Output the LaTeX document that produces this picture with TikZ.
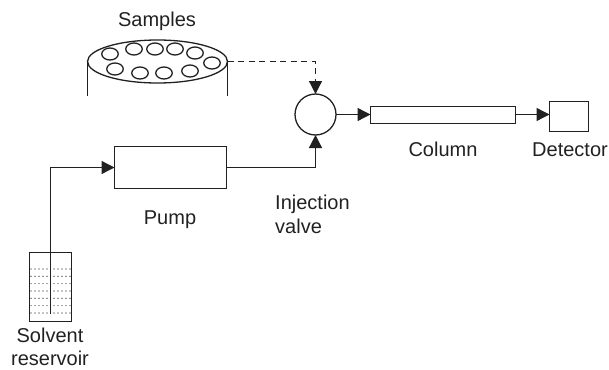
\documentclass[tikz,border=0pt]{standalone}
\usepackage{fontspec}
\setmainfont{Liberation Sans}
\usetikzlibrary{arrows.meta,calc,shapes.geometric}
\definecolor{ink}{gray}{0.13}
\tikzset{
  x=1pt,y=-1pt,
  line/.style={draw=ink,line width=1.3pt},
  tip/.style={-{Triangle[length=13pt,width=13pt,fill=ink]}},
  flow/.style={line,tip},
  part/.style={line,rectangle,inner sep=0pt,outer sep=0pt,anchor=north west},
  lab/.style={text=ink,font=\fontsize{20}{23.5}\selectfont,inner sep=0pt,align=center},
  hole/.style={line,ellipse,minimum width=16.5pt,minimum height=12pt,inner sep=0pt}
}
\begin{document}
\begin{tikzpicture}
\useasboundingbox (0,0) rectangle (609,369);
% samples tray
\node[line,ellipse,minimum width=140pt,minimum height=43pt,inner sep=0pt,outer sep=0pt] (tray) at (157.5,61.5) {};
\coordinate (trayBL) at (87.5,96);
\coordinate (trayBR) at (227.5,96);
\draw[line] (tray.west) -- (trayBL);
\draw[line] (tray.east) -- (trayBR);
\foreach \i/\x/\y in {1/110/54,2/134/49,3/155/49,4/175/49,5/195/53,6/212/63,7/115/69,8/140/73,9/164/73,10/190/71}
  \node[hole] (h\i) at (\x,\y) {};
% valve, pump, column, detector
\node[line,circle,minimum size=41pt,inner sep=0pt,outer sep=0pt] (valve) at (315.5,114.5) {};
\node[part,minimum width=112pt,minimum height=42pt] (pump) at (114.5,146.5) {};
\node[part,minimum width=145pt,minimum height=17pt] (column) at (370.5,106.5) {};
\node[part,minimum width=39pt,minimum height=30pt] (detector) at (549.5,101.5) {};
\node[part,minimum width=42pt,minimum height=69pt] (res) at (29.5,252.5) {};
% reservoir contents
\foreach \y in {269,276.3,283.6,291,298.3,305.6,313}
  \foreach \x in {31,35,39,43,47,54,58,62,66,70}
    \fill[black] (\x,\y) circle (0.6pt);
\coordinate (dip) at (50.5,314);
\coordinate (bend) at (50.5,167.5);
\draw[flow] (dip) -- (bend) -- (pump.west);
\draw[flow] (pump.east) -| (valve.south);
\draw[line,dash pattern=on 6pt off 4.5pt,tip] (tray.east) -| (valve.north);
\draw[flow] (valve.east) -- (valve.east -| column.west);
\draw[flow] (column.east |- valve.east) -- (valve.east -| detector.west);
% labels
\node[lab] (lsamples) at (157,21) {Samples};
\node[lab] (lpump) at (170,220) {Pump};
\node[lab,align=left,anchor=north west] (lvalve) at (275,195) {Injection\\valve};
\node[lab] (lcolumn) at (443,149) {Column};
\node[lab] (ldet) at (570,149.5) {Detector};
\node[lab,anchor=north] (lsolv) at (50,327.5) {Solvent\\reservoir};
\end{tikzpicture}
\end{document}
